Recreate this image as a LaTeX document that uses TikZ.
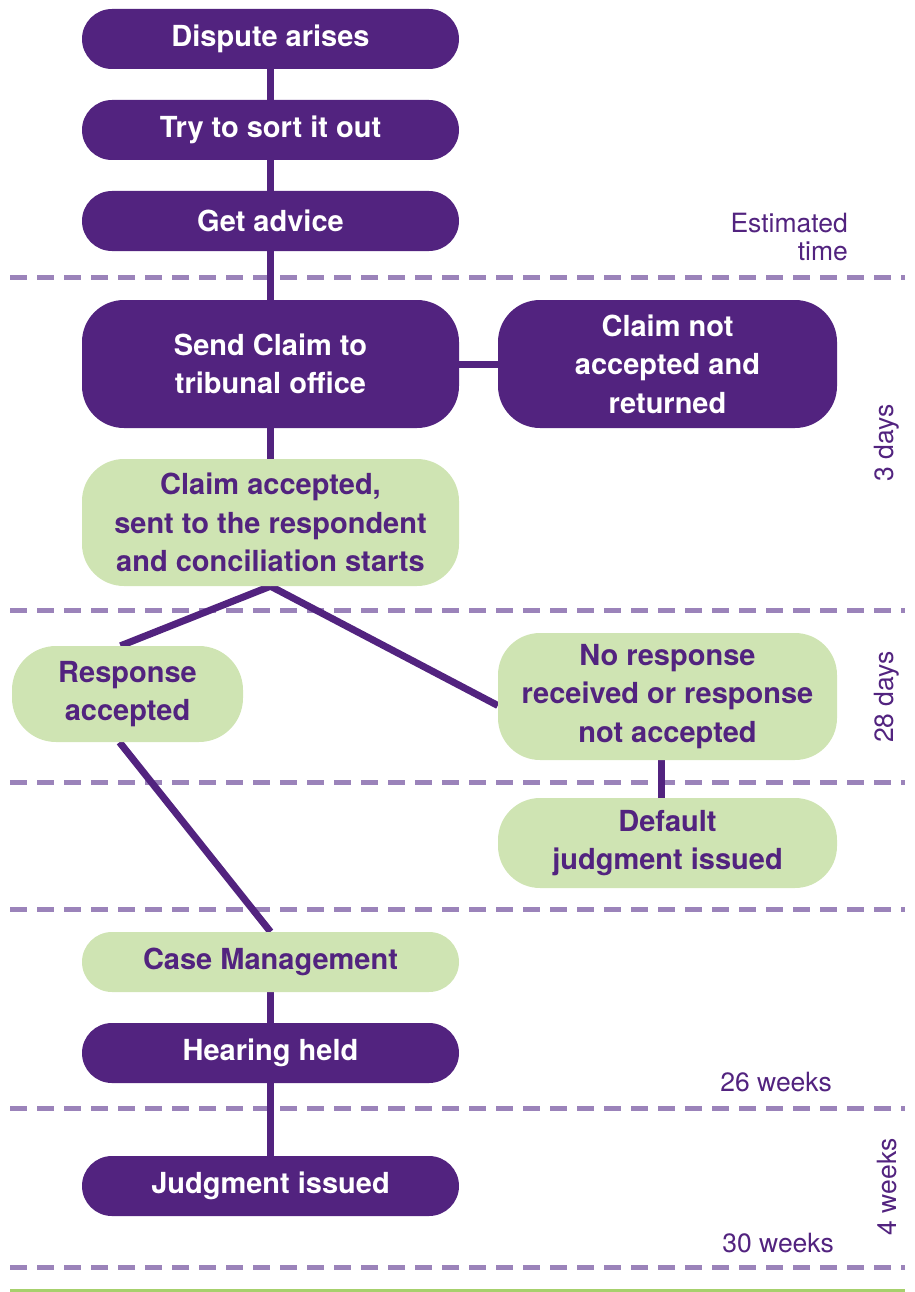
\documentclass[tikz,border=0pt]{standalone}
\usepackage{fontspec}
\setmainfont{TeX Gyre Heros}
\usetikzlibrary{backgrounds}
\definecolor{dpurple}{HTML}{52237F}
\definecolor{lgreen}{HTML}{CFE4B3}
\definecolor{dashc}{HTML}{9B83BA}
\definecolor{bgreen}{HTML}{A6D06C}
\tikzset{
  box/.style={inner sep=0pt, align=center, font=\bfseries\fontsize{29}{38.5}\selectfont},
  darkbox/.style={box, fill=dpurple, text=white},
  greenbox/.style={box, fill=lgreen, text=dpurple},
  conn/.style={draw=dpurple, line width=7pt},
  sep/.style={draw=dashc, line width=5pt, dash pattern=on 17pt off 10pt},
  timelbl/.style={text=dpurple, font=\fontsize{26.5}{28}\selectfont, inner sep=0pt}
}
\begin{document}
\begin{tikzpicture}[x=1pt,y=-1pt]
\useasboundingbox (0,0) rectangle (914,1292);
% nodes
\node[darkbox, minimum width=377pt, minimum height=60pt, rounded corners=30pt] (d1) at (270.5,39) {Dispute arises};
\node[darkbox, minimum width=377pt, minimum height=60pt, rounded corners=30pt] (d2) at (270.5,130) {Try to sort it out};
\node[darkbox, minimum width=377pt, minimum height=60pt, rounded corners=30pt] (d3) at (270.5,221) {Get advice};
\node[darkbox, minimum width=377pt, minimum height=128pt, rounded corners=42pt] (sc) at (270.5,364) {Send Claim to\\tribunal office};
\node[darkbox, minimum width=339pt, minimum height=128pt, rounded corners=42pt] (cn) at (667.5,364) {Claim not\\accepted and\\returned};
\node[greenbox, minimum width=377pt, minimum height=127pt, rounded corners=42pt] (ca) at (270.5,522.5) {Claim accepted,\\sent to the respondent\\and conciliation starts};
\node[greenbox, minimum width=231pt, minimum height=96pt, rounded corners=44pt] (ra) at (127.5,694) {Response\\accepted};
\node[greenbox, minimum width=339pt, minimum height=127pt, rounded corners=42pt] (nr) at (667.5,696.5) {No response\\received or response\\not accepted};
\node[greenbox, minimum width=339pt, minimum height=90pt, rounded corners=42pt] (dj) at (667.5,843) {Default\\judgment issued};
\node[greenbox, minimum width=377pt, minimum height=60pt, rounded corners=30pt] (cm) at (270.5,962) {Case Management};
\node[darkbox, minimum width=377pt, minimum height=60pt, rounded corners=30pt] (hh) at (270.5,1053) {Hearing held};
\node[darkbox, minimum width=377pt, minimum height=60pt, rounded corners=30pt] (ji) at (270.5,1186) {Judgment issued};
% time labels
\node[timelbl, align=right, anchor=east] (est) at (848,237.5) {Estimated\\time};
\node[timelbl, rotate=90] (t3) at (887,443) {3 days};
\node[timelbl, rotate=90] (t28) at (887,697) {28 days};
\node[timelbl, anchor=east] (w26) at (832,1082) {26 weeks};
\node[timelbl, rotate=90] (t4) at (887,1187) {4 weeks};
\node[timelbl, anchor=east] (w30) at (834,1243) {30 weeks};
% separators and connectors
\coordinate (l1) at (10,277); \coordinate (r1) at (905,277);
\coordinate (l2) at (10,610); \coordinate (r2) at (905,610);
\coordinate (l3) at (10,782); \coordinate (r3) at (905,782);
\coordinate (l4) at (10,909); \coordinate (r4) at (905,909);
\coordinate (l5) at (10,1108); \coordinate (r5) at (905,1108);
\coordinate (l6) at (10,1267); \coordinate (r6) at (905,1267);
\coordinate (g1) at (10,1290); \coordinate (g2) at (905,1290);
\begin{scope}[on background layer]
\foreach \i in {1,...,6} {\draw[sep] (l\i) -- (r\i);}
\draw[draw=bgreen, line width=3pt] (g1) -- (g2);
\draw[conn] (d1) -- (d2);
\draw[conn] (d2) -- (d3);
\draw[conn] (d3) -- (sc);
\draw[conn] (sc) -- (ca);
\draw[conn] (sc.east) -- (cn.west);
\draw[conn] (ca.south) -- ([xshift=-7pt]ra.north);
\draw[conn] (ca.south) -- ([yshift=-9pt]nr.west);
\draw[conn] ([xshift=-8pt]ra.south) -- (cm.north);
\draw[conn] ([xshift=-6pt]nr.south) -- ([xshift=-6pt]dj.north);
\draw[conn] (cm) -- (hh);
\draw[conn] (hh) -- (ji);
\end{scope}
\end{tikzpicture}
\end{document}
